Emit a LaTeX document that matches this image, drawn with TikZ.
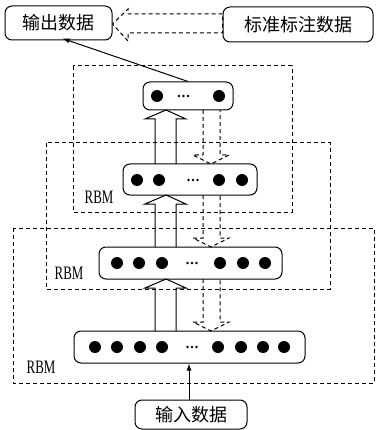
\documentclass[tikz,border=0pt]{standalone}
\usepackage{fontspec}
\setmainfont{Liberation Serif}
\newfontfamily\cjk{Noto Sans CJK SC}
\usetikzlibrary{arrows.meta,calc}
\begin{document}
\begin{tikzpicture}[x=1pt,y=-1pt,
  line width=1pt,
  txtbox/.style={draw,rounded corners=7pt,font=\cjk\fontsize{18}{18}\selectfont,inner sep=0pt},
  layer/.style={draw,rounded corners=7pt,inner sep=0pt},
  unit/.style={circle,fill,inner sep=0pt,minimum size=12pt},
  tiny/.style={circle,fill,inner sep=0pt,minimum size=2.6pt},
  rbmbox/.style={draw,dashed,dash pattern=on 4pt off 3pt,line width=1pt},
  rbmlabel/.style={font=\fontsize{19}{19}\selectfont,inner sep=0pt},
  hollow/.style={line width=1pt},
  dhollow/.style={dashed,dash pattern=on 4pt off 3pt,line width=1pt}
]
\useasboundingbox (0,0) rectangle (375,430);
% dashed RBM frames
\draw[rbmbox] (73,66) rectangle (292,212);
\draw[rbmbox] (46,143) rectangle (330,289);
\draw[rbmbox] (13,228) rectangle (374,383);
\node[rbmlabel] (r1) at (99,197) {\scalebox{0.68}[1]{RBM}};
\node[rbmlabel] (r2) at (69,273) {\scalebox{0.68}[1]{RBM}};
\node[rbmlabel] (r3) at (41,367) {\scalebox{0.68}[1]{RBM}};
% text boxes
\node[txtbox,minimum width=107pt,minimum height=34pt] (out) at (58.5,23) {输出数据};
\node[txtbox,minimum width=150pt,minimum height=35pt] (lab) at (298,24.5) {标准标注数据};
\node[txtbox,minimum width=112pt,minimum height=29pt] (in) at (191,414.5) {输入数据};
% layers
\node[layer,minimum width=90pt,minimum height=28pt] (l1) at (188,96) {};
\node[layer,minimum width=134pt,minimum height=31pt] (l2) at (190,179.5) {};
\node[layer,minimum width=183pt,minimum height=32pt] (l3) at (190.5,263) {};
\node[layer,minimum width=231pt,minimum height=32pt] (l4) at (189.5,347) {};
% units
\foreach \x [count=\i] in {157,219} \node[unit] (a\i) at (\x,96) {};
\foreach \x [count=\i] in {179,183.5,188} \node[tiny] (ae\i) at (\x,96) {};
\foreach \x [count=\i] in {137,159,219,242} \node[unit] (b\i) at (\x,180) {};
\foreach \x [count=\i] in {188.5,193,197.5} \node[tiny] (be\i) at (\x,180) {};
\foreach \x [count=\i] in {117,139,162,220,243,265} \node[unit] (c\i) at (\x,263) {};
\foreach \x [count=\i] in {187.5,192,196.5} \node[tiny] (ce\i) at (\x,263) {};
\foreach \x [count=\i] in {95,117,140,162,218,241,263,284} \node[unit] (d\i) at (\x,347) {};
\foreach \x [count=\i] in {187.5,192,196.5} \node[tiny] (de\i) at (\x,347) {};
% solid hollow up arrows (lower top y / upper bottom y)
\foreach \lo/\hi in {331/279,247/195,164/110}{
  \pgfmathsetmacro{\hb}{\hi+9}
  \draw[hollow] (155,\lo) -- (155,\hb) -- (145,\hb) -- (166,\hi) -- (186,\hb) -- (176,\hb) -- (176,\lo);
}
% dashed hollow down arrows (upper bottom y / lower top y)
\foreach \hi/\lo in {110/164,195/247,279/331}{
  \pgfmathsetmacro{\hb}{\lo-9}
  \draw[dhollow] (203,\hi) -- (203,\hb) -- (193,\hb) -- (211,\lo) -- (229,\hb) -- (220,\hb) -- (220,\hi);
}
% dashed hollow left arrow
\draw[dhollow] (lab.west |- 0,14) -- (128,14) -- (128,9) -- (out.east |- 0,24) -- (128,41) -- (128,33) -- (lab.west |- 0,33) -- cycle;
% connectors
\draw[-{Latex[length=7pt,width=5pt]}] ($(in.north)+(-2,0)$) -- ($(in.north |- l4.south)+(-2,0)$);
\draw[-{Latex[length=7pt,width=5pt]}] (l1.north) -- ($(out.south)+(4,-2)$);
\end{tikzpicture}
\end{document}
